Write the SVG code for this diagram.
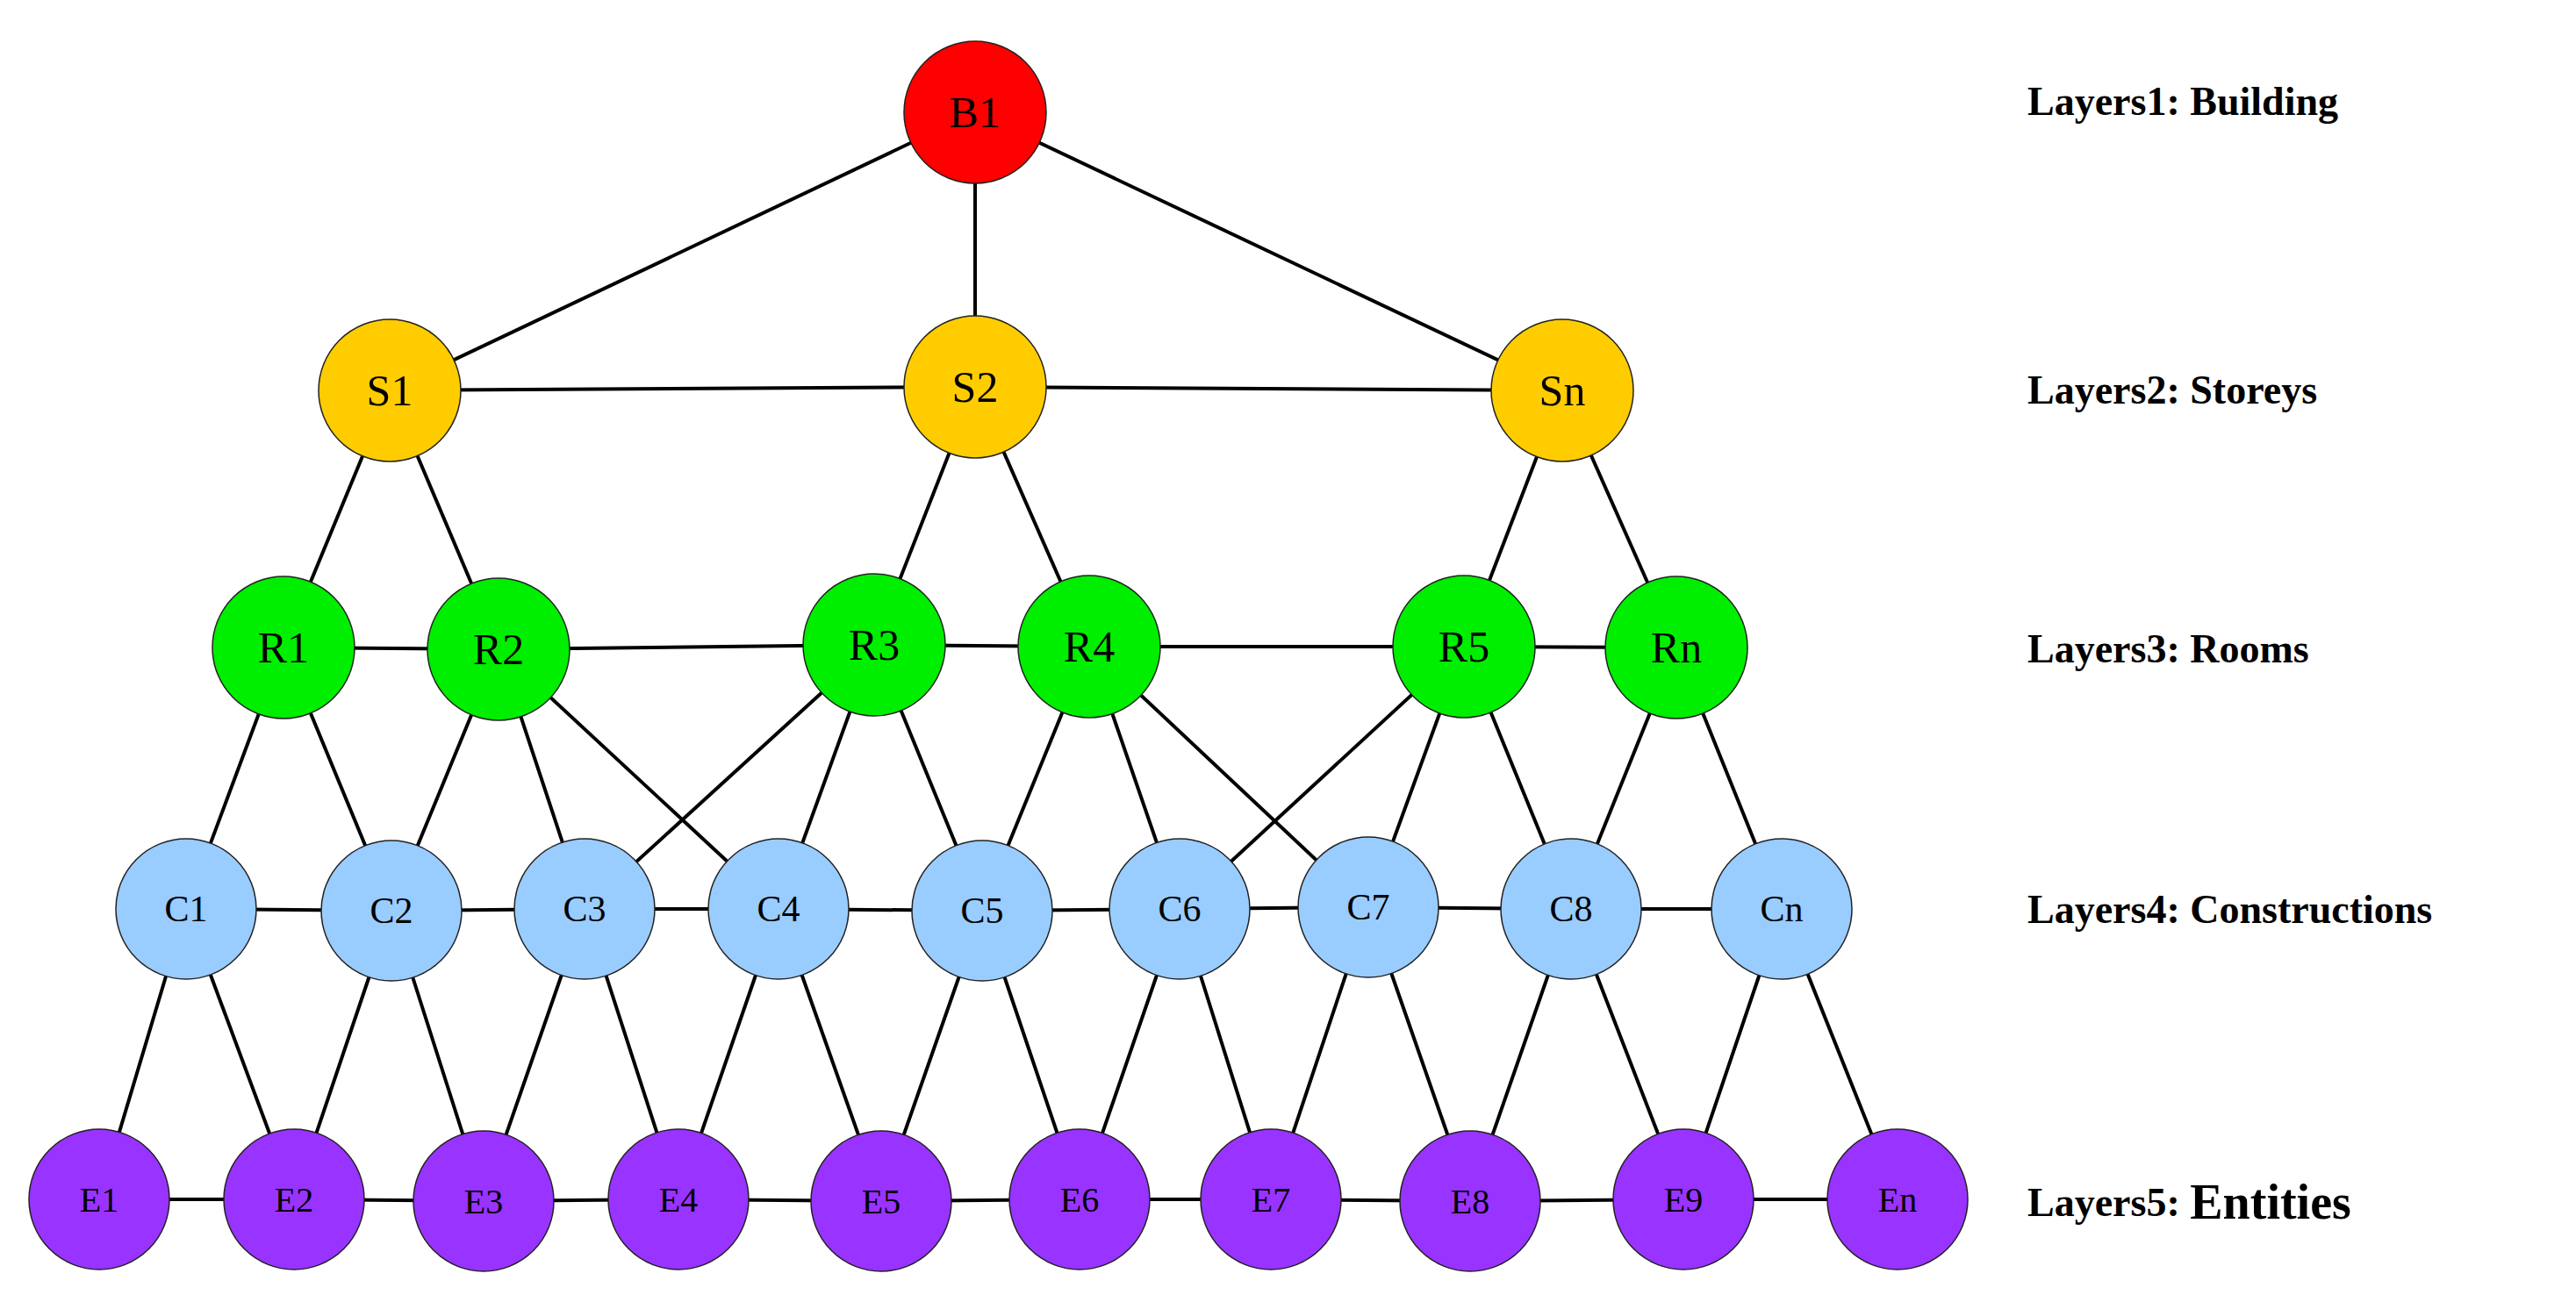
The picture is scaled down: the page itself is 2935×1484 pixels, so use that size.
<svg xmlns="http://www.w3.org/2000/svg" width="2935" height="1484" viewBox="0 0 2935 1484">
<style>
.e{stroke:#000;stroke-width:4;fill:none}
circle{stroke:#222;stroke-width:1.5}
.b{fill:#ff0000}.s{fill:#ffcc00}.r{fill:#00ee00}.c{fill:#99ccff}.p{fill:#9933ff}
text{font-family:"Liberation Serif","DejaVu Serif",serif;text-anchor:middle;dominant-baseline:central;fill:#000}
.t1{font-size:50px}.t2{font-size:42px}.t3{font-size:40px}
.L{font-size:46px;font-weight:bold;text-anchor:start}
</style>
<rect width="2935" height="1484" fill="#fff"/>
<g id="connectors" class="e">
<path d="M1111 128L444 445M1111 128L1111 441M1111 128L1780 445M444 445L1111 441L1780 445"/>
<path d="M444 445L323 738M444 445L568 738M1111 441L996 735M1111 441L1241 737M1780 445L1668 737M1780 445L1910 738"/>
<path d="M323 738L568 740L996 735L1241 737L1668 737L1910 738"/>
<path d="M323 738L212 1036M323 738L446 1036M568 740L446 1036M568 740L666 1036M568 740L887 1036M996 735L666 1036M996 735L887 1036M996 735L1119 1036M1241 737L1119 1036M1241 737L1344 1036M1241 737L1559 1036M1668 737L1344 1036M1668 737L1559 1036M1668 737L1790 1036M1910 738L1790 1036M1910 738L2030 1036"/>
<path d="M212 1036L446 1038L666 1036L887 1036L1119 1038L1344 1036L1559 1034L1790 1036L2030 1036"/>
<path d="M212 1036L113 1367M212 1036L335 1367M446 1038L335 1367M446 1038L551 1367M666 1036L551 1367M666 1036L773 1367M887 1036L773 1367M887 1036L1004 1367M1119 1038L1004 1367M1119 1038L1230 1367M1344 1036L1230 1367M1344 1036L1448 1367M1559 1034L1448 1367M1559 1034L1675 1367M1790 1036L1675 1367M1790 1036L1918 1367M2030 1036L1918 1367M2030 1036L2162 1367"/>
<path d="M113 1367L335 1367L551 1369L773 1367L1004 1369L1230 1367L1448 1367L1675 1369L1918 1367L2162 1367"/>
</g>
<g id="B1"><circle class="b" cx="1111" cy="128" r="81"/><text class="t1" x="1111" y="128">B1</text></g>
<g id="S1"><circle class="s" cx="444" cy="445" r="81"/><text class="t1" x="444" y="445">S1</text></g>
<g id="S2"><circle class="s" cx="1111" cy="441" r="81"/><text class="t1" x="1111" y="441">S2</text></g>
<g id="Sn"><circle class="s" cx="1780" cy="445" r="81"/><text class="t1" x="1780" y="445">Sn</text></g>
<g id="R1"><circle class="r" cx="323" cy="738" r="81"/><text class="t1" x="323" y="738">R1</text></g>
<g id="R2"><circle class="r" cx="568" cy="740" r="81"/><text class="t1" x="568" y="740">R2</text></g>
<g id="R3"><circle class="r" cx="996" cy="735" r="81"/><text class="t1" x="996" y="735">R3</text></g>
<g id="R4"><circle class="r" cx="1241" cy="737" r="81"/><text class="t1" x="1241" y="737">R4</text></g>
<g id="R5"><circle class="r" cx="1668" cy="737" r="81"/><text class="t1" x="1668" y="737">R5</text></g>
<g id="Rn"><circle class="r" cx="1910" cy="738" r="81"/><text class="t1" x="1910" y="738">Rn</text></g>
<g id="C1"><circle class="c" cx="212" cy="1036" r="80"/><text class="t2" x="212" y="1036">C1</text></g>
<g id="C2"><circle class="c" cx="446" cy="1038" r="80"/><text class="t2" x="446" y="1038">C2</text></g>
<g id="C3"><circle class="c" cx="666" cy="1036" r="80"/><text class="t2" x="666" y="1036">C3</text></g>
<g id="C4"><circle class="c" cx="887" cy="1036" r="80"/><text class="t2" x="887" y="1036">C4</text></g>
<g id="C5"><circle class="c" cx="1119" cy="1038" r="80"/><text class="t2" x="1119" y="1038">C5</text></g>
<g id="C6"><circle class="c" cx="1344" cy="1036" r="80"/><text class="t2" x="1344" y="1036">C6</text></g>
<g id="C7"><circle class="c" cx="1559" cy="1034" r="80"/><text class="t2" x="1559" y="1034">C7</text></g>
<g id="C8"><circle class="c" cx="1790" cy="1036" r="80"/><text class="t2" x="1790" y="1036">C8</text></g>
<g id="Cn"><circle class="c" cx="2030" cy="1036" r="80"/><text class="t2" x="2030" y="1036">Cn</text></g>
<g id="E1"><circle class="p" cx="113" cy="1367" r="80"/><text class="t3" x="113" y="1367">E1</text></g>
<g id="E2"><circle class="p" cx="335" cy="1367" r="80"/><text class="t3" x="335" y="1367">E2</text></g>
<g id="E3"><circle class="p" cx="551" cy="1369" r="80"/><text class="t3" x="551" y="1369">E3</text></g>
<g id="E4"><circle class="p" cx="773" cy="1367" r="80"/><text class="t3" x="773" y="1367">E4</text></g>
<g id="E5"><circle class="p" cx="1004" cy="1369" r="80"/><text class="t3" x="1004" y="1369">E5</text></g>
<g id="E6"><circle class="p" cx="1230" cy="1367" r="80"/><text class="t3" x="1230" y="1367">E6</text></g>
<g id="E7"><circle class="p" cx="1448" cy="1367" r="80"/><text class="t3" x="1448" y="1367">E7</text></g>
<g id="E8"><circle class="p" cx="1675" cy="1369" r="80"/><text class="t3" x="1675" y="1369">E8</text></g>
<g id="E9"><circle class="p" cx="1918" cy="1367" r="80"/><text class="t3" x="1918" y="1367">E9</text></g>
<g id="En"><circle class="p" cx="2162" cy="1367" r="80"/><text class="t3" x="2162" y="1367">En</text></g>
<g id="labels">
<text class="L" x="2310" y="115">Layers1: Building</text>
<text class="L" x="2310" y="444">Layers2: Storeys</text>
<text class="L" x="2310" y="739">Layers3: Rooms</text>
<text class="L" x="2310" y="1036">Layers4: Constructions</text>
<text class="L" x="2310" y="1370">Layers5: <tspan style="font-size:56px">Entities</tspan></text>
</g>
</svg>
